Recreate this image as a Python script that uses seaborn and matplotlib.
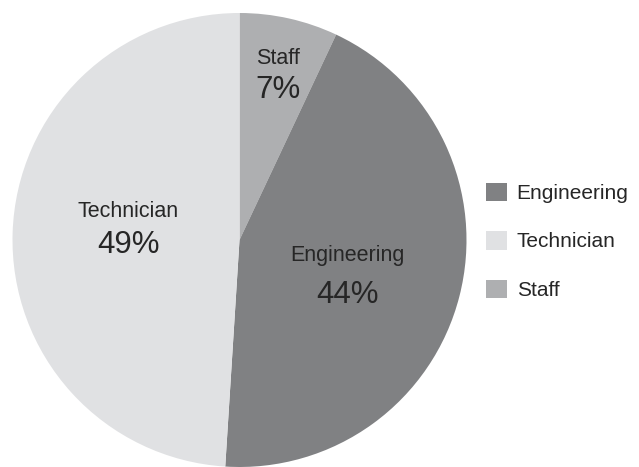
import numpy as np
import matplotlib
matplotlib.use("Agg")
import matplotlib.pyplot as plt
from matplotlib.patches import Patch
import seaborn as sns

# Data (clockwise from 12 o'clock)
categories = ["Staff", "Engineering", "Technician"]
shares = [7, 44, 49]
colors = ["#aeafb1", "#808183", "#e0e1e3"]
legend_order = ["Engineering", "Technician", "Staff"]

sns.set_theme(style="white")
plt.rcParams["font.family"] = ["Liberation Sans", "DejaVu Sans"]

fig = plt.figure(figsize=(6.39, 4.67), dpi=100)
W, H = 639, 467
cx, cy, R = 239.5, 240, 227
ax = fig.add_axes([(cx - R) / W, (H - cy - R) / H, 2 * R / W, 2 * R / H])

wedges, _ = ax.pie(shares, colors=colors, startangle=90, counterclock=False,
                   radius=1.0, wedgeprops=dict(linewidth=0))
ax.set_xlim(-1, 1)
ax.set_ylim(-1, 1)
ax.set_aspect("equal")
ax.axis("off")

# Labels inside slices
label_r = {"Staff": 0.72, "Engineering": 0.49, "Technician": 0.49}
label_dy = {"Staff": 0.033, "Engineering": -0.029, "Technician": 0.04}
label_dx = {"Staff": 0.012, "Engineering": 0.0, "Technician": 0.0}
label_gap = {"Staff": 0.065, "Engineering": 0.083, "Technician": 0.068}
cum = np.cumsum([0] + shares[:-1])
total = sum(shares)
txt_color = "#262626"
for cat, s, c0 in zip(categories, shares, cum):
    mid = (c0 + s / 2) / total * 360
    theta = np.deg2rad(90 - mid)
    r = label_r[cat]
    x = r * np.cos(theta) + label_dx[cat]
    y = r * np.sin(theta) + label_dy[cat]
    g = label_gap[cat]
    ax.text(x, y + g, cat, ha="center", va="center", fontsize=15.5, color=txt_color)
    ax.text(x, y - g - 0.01, f"{s}%", ha="center", va="center", fontsize=22.5,
            color=txt_color)

color_map = dict(zip(categories, colors))
handles = [Patch(facecolor=color_map[c], edgecolor="none", label=c) for c in legend_order]
fig.legend(handles=handles, loc="center left", bbox_to_anchor=(486 / W, (H - 241.3) / H),
           frameon=False, fontsize=15, handlelength=0.99, handleheight=0.99,
           handletextpad=0.48, labelspacing=1.35, borderpad=0, borderaxespad=0,
           labelcolor=txt_color)

fig.savefig("out.png", dpi=100)
